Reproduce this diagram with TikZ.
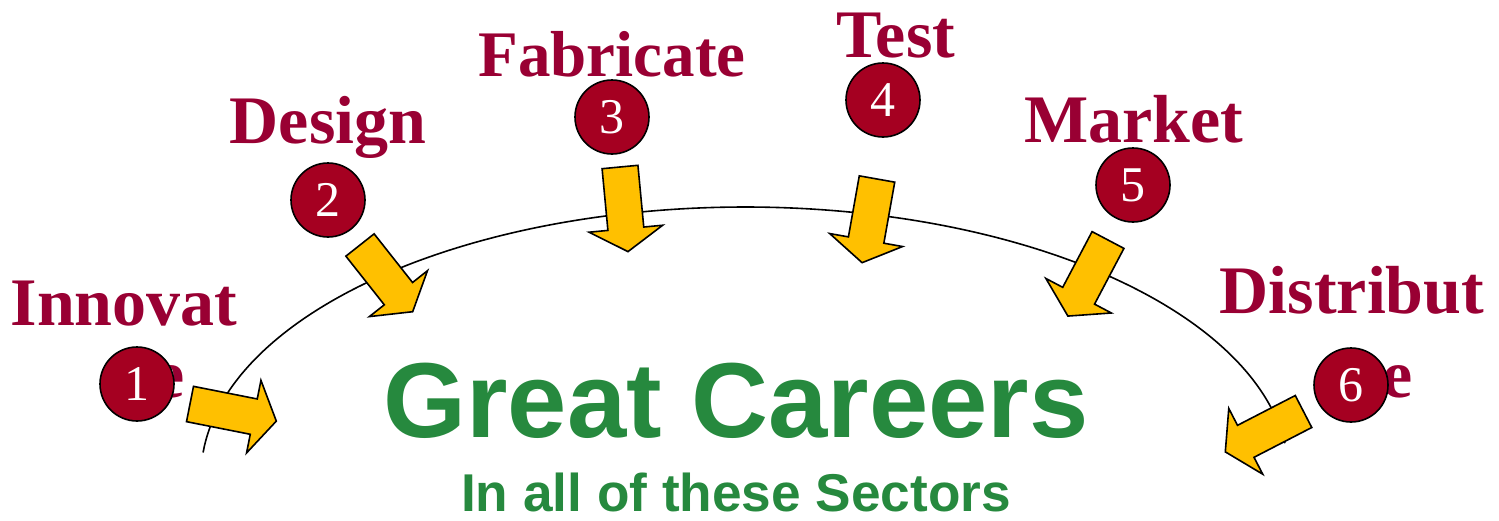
\documentclass[tikz,border=0pt]{standalone}
\usepackage{fontspec}
\setmainfont{Liberation Serif}
\setsansfont{Liberation Sans}
\definecolor{lblred}{RGB}{153,0,51}
\definecolor{circred}{RGB}{165,0,33}
\definecolor{arrowfill}{RGB}{255,192,0}
\definecolor{careergreen}{RGB}{38,137,62}
\tikzset{
  stagelabel/.style={anchor=base,inner sep=0pt,text=lblred,font=\fontsize{34}{40}\selectfont\bfseries},
  numcirc/.style={circle,draw=black,line width=0.8pt,fill=circred,minimum size=37pt,inner sep=0pt,text=white,font=\fontsize{25}{28}\selectfont},
  blockarrow/.style={draw=black,line width=0.8pt,fill=arrowfill,line join=miter},
  arcline/.style={draw=black,line width=0.8pt},
}
\newcommand\blkarrow[4]{%
  \begin{scope}[shift={(#1,#2)},rotate=#3]
    \draw[blockarrow] (0,-18) -- ({#4-23},-18) -- ({#4-23},-37) -- (#4,0) -- ({#4-23},37) -- ({#4-23},18) -- (0,18) -- cycle;
  \end{scope}}
\begin{document}
\begin{tikzpicture}[x=0.5pt,y=-0.5pt]
\useasboundingbox (0,0) rectangle (1499,520);
% sweeping arc
\draw[arcline] plot[domain=175:7,samples=120,smooth] ({745+544*cos(\x)},{476-269*sin(\x)});
% block arrows
\blkarrow{190}{404}{-11.2}{88}
\blkarrow{360}{245}{-51.7}{85}
\blkarrow{620}{167}{-84.6}{85}
\blkarrow{877}{179}{-100.1}{85}
\blkarrow{1108}{240}{-117.8}{86}
\blkarrow{1303.5}{411.5}{-152.7}{88}
% labels
\node[stagelabel] (innov) at (124,325) {Innovat};
\node[stagelabel] (innove) at (170,397) {e};
\node[stagelabel] (design) at (328,143) {Design};
\node[stagelabel,font=\fontsize{32.5}{40}\selectfont\bfseries] (fabric) at (612,76) {Fabricate};
\node[stagelabel] (test) at (896,57) {Test};
\node[stagelabel] (market) at (1134,142) {Market};
\node[stagelabel] (distr) at (1352,313) {Distribut};
\node[stagelabel] (distre) at (1398,397) {e};
% number circles
\node[numcirc] (c1) at (137,384) {1};
\node[numcirc] (c2) at (328,200) {2};
\node[numcirc] (c3) at (612,117) {3};
\node[numcirc] (c4) at (883,100) {4};
\node[numcirc] (c5) at (1133,185) {5};
\node[numcirc] (c6) at (1351,385) {6};
% central text
\node[anchor=base,inner sep=0pt,text=careergreen,font=\fontsize{53.3}{60}\selectfont\sffamily\bfseries] (great) at (736,437) {Great Careers};
\node[anchor=base,inner sep=0pt,text depth=0pt,text=careergreen,font=\fontsize{26.6}{30}\selectfont\sffamily\bfseries] (sectors) at (736,511) {In all of these Sectors};
\end{tikzpicture}
\end{document}
